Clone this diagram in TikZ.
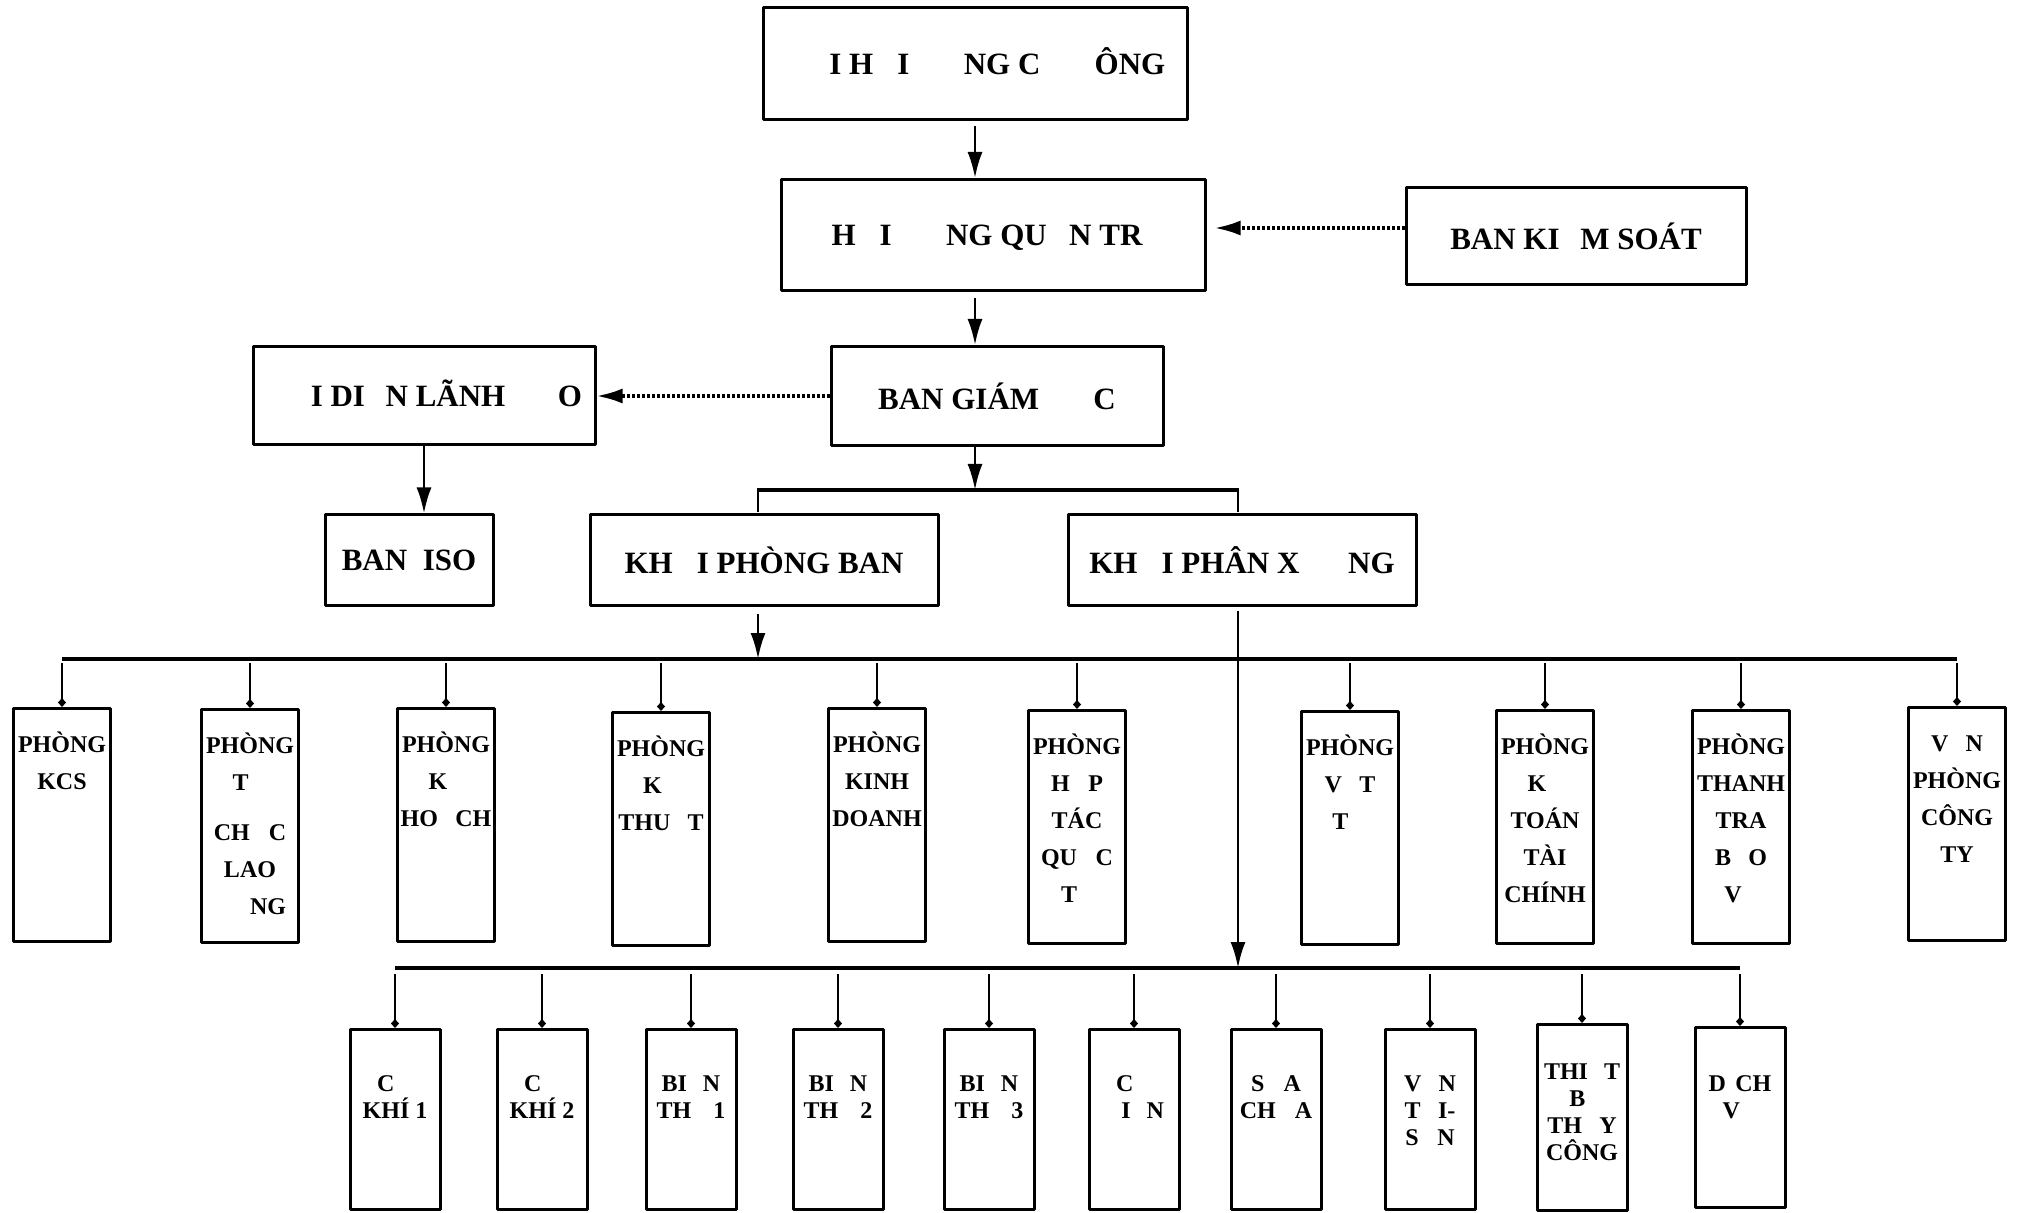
\documentclass[tikz,border=0pt]{standalone}
\usepackage{fontspec}
\setmainfont{Liberation Serif}
\usetikzlibrary{arrows.meta}
\newcommand{\miss}[1]{\phantom{#1}}
\newcommand{\boxtxt}[4]{\parbox[c][#1][t]{#2}{\centering\rule{0pt}{#3}#4\par}}
\tikzset{org/.style={line join=round,>={Latex[length=13pt,width=7.5pt]}},
  hd/.style={draw,line width=1.5pt,inner sep=0pt,font=\fontsize{15.5}{18}\selectfont\bfseries},
  room/.style={draw,line width=1.5pt,inner sep=0pt,anchor=north,font=\fontsize{12}{18.5}\selectfont\bfseries},
  shop/.style={room,font=\fontsize{12}{13.5}\selectfont\bfseries},
  arr/.style={line width=1.3pt,->},
  dots/.style={line width=1.7pt,dash pattern=on 1.5pt off 1pt,-{Latex[length=13pt,width=7.5pt]}},
  bar/.style={line width=1.6pt},
  link/.style={line width=1pt},
  drop/.style={line width=1pt,-{Diamond[length=4.5pt,width=4pt]}}}

\begin{document}
\begin{tikzpicture}[org,x=0.5pt,y=-0.5pt]
  \useasboundingbox (0,0) rectangle (2023,1213);
  % top of the chart
  \node[hd,minimum width=212pt,minimum height=56pt] (dhcd) at (975,64) {\miss{ĐẠ}I H\miss{Ộ}I \miss{ĐỒ}NG C\miss{Ổ} \miss{Đ}ÔNG};
  \node[hd,minimum width=212pt,minimum height=55.5pt] (hdqt) at (993,235) {H\miss{Ộ}I \miss{ĐỒ}NG QU\miss{Ả}N TR\miss{Ị}};
  \node[hd,minimum width=170pt,minimum height=48.5pt] (bks) at (1576,236) {BAN KI\miss{Ể}M SOÁT};
  \node[hd,minimum width=171pt,minimum height=49pt] (ddld) at (424,396) {\miss{ĐẠ}I DI\miss{Ệ}N LÃNH \miss{ĐẠ}O};
  \node[hd,minimum width=166pt,minimum height=49.5pt] (bgd) at (997,396) {BAN GIÁM \miss{ĐỐ}C};
  \node[hd,minimum width=84pt,minimum height=45pt] (iso) at (409,560) {BAN~ ISO};
  \node[hd,minimum width=174pt,minimum height=45pt] (kpb) at (764,560) {KH\miss{Ố}I PHÒNG BAN};
  \node[hd,minimum width=174pt,minimum height=45pt] (kpx) at (1242,560) {KH\miss{Ố}I PHÂN X\miss{ƯỞ}NG};
  \draw[arr,shorten <=2.5pt] (dhcd.south) -- (dhcd.south |- hdqt.north);
  \draw[arr,shorten <=3pt] (hdqt.south -| dhcd.south) -- (bgd.north -| dhcd.south);
  \draw[dots,shorten >=4pt] ([yshift=4pt]bks.west) -- ([yshift=4pt]bks.west -| hdqt.east);
  \draw[dots] (bgd.west) -- (ddld.east);
  \draw[arr] (ddld.south) -- (ddld.south |- iso.north);
  \coordinate (br) at (975,490); \coordinate (pbx) at (758,560); \coordinate (pxx) at (1238,560);
  \draw[arr] (bgd.south -| br) -- (br);
  \draw[bar] (pbx |- br) -- (pxx |- br);
  \draw[link] (pbx |- br) ++(0,-2) -- ++(0,24); \draw[link] (pxx |- br) ++(0,-2) -- ++(0,24);
  % phong ban
  \node[room] (kcs) at (62,707) {\boxtxt{116.5pt}{48.5pt}{22pt}{PHÒNG\\KCS}};
  \node[room] (tcld) at (250,708) {\boxtxt{116.5pt}{48.5pt}{22pt}{PHÒNG\\T\miss{Ổ}\\[6.5pt]CH\miss{Ứ}C\\LAO\\\miss{ĐỘ}NG}};
  \node[room] (khoach) at (446,707) {\boxtxt{116.5pt}{48.5pt}{22pt}{PHÒNG\\K\miss{Ế}\\HO\miss{Ạ}CH}};
  \node[room] (kthuat) at (661,711) {\boxtxt{116.5pt}{48.5pt}{22pt}{PHÒNG\\K\miss{Ỹ}\\THU\miss{Ậ}T}};
  \node[room] (kdoanh) at (877,707) {\boxtxt{116.5pt}{48.5pt}{22pt}{PHÒNG\\KINH\\DOANH}};
  \node[room] (htqt) at (1077,709) {\boxtxt{116.5pt}{48.5pt}{22pt}{PHÒNG\\H\miss{Ợ}P\\TÁC\\QU\miss{Ố}C\\T\miss{Ế}}};
  \node[room] (vattu) at (1350,710) {\boxtxt{116.5pt}{48.5pt}{22pt}{PHÒNG\\V\miss{Ậ}T\\T\miss{Ư}}};
  \node[room] (ktoan) at (1545,709) {\boxtxt{116.5pt}{48.5pt}{22pt}{PHÒNG\\K\miss{Ế}\\TOÁN\\TÀI\\CHÍNH}};
  \node[room] (ttbv) at (1741,709) {\boxtxt{116.5pt}{48.5pt}{22pt}{PHÒNG\\THANH\\TRA\\B\miss{Ả}O\\V\miss{Ệ}}};
  \node[room] (vpct) at (1957,706) {\boxtxt{116.5pt}{48.5pt}{22pt}{V\miss{Ă}N\\PHÒNG\\CÔNG\\TY}};
  \coordinate (pb) at (0,659);
  \draw[arr,shorten <=3.5pt] (kpb.south -| pbx) -- (pbx |- pb);
  \draw[bar] (kcs |- pb) -- (vpct |- pb);
  \foreach \n in {kcs,tcld,khoach,kthuat,kdoanh,htqt,vattu,ktoan,ttbv,vpct}
    \draw[drop,shorten <=2pt] (\n |- pb) -- (\n.north);
  % phan xuong
  \node[shop] (ck1) at (395,1028) {\boxtxt{90pt}{45pt}{31pt}{C\miss{Ơ}\\KHÍ 1}};
  \node[shop] (ck2) at (542,1028) {\boxtxt{90pt}{45pt}{31pt}{C\miss{Ơ}\\KHÍ 2}};
  \node[shop] (bt1) at (691,1028) {\boxtxt{90pt}{45pt}{31pt}{BI\miss{Ế}N\\TH\miss{Ế} 1}};
  \node[shop] (bt2) at (838,1028) {\boxtxt{90pt}{45pt}{31pt}{BI\miss{Ế}N\\TH\miss{Ế} 2}};
  \node[shop] (bt3) at (989,1028) {\boxtxt{90pt}{45pt}{31pt}{BI\miss{Ế}N\\TH\miss{Ế} 3}};
  \node[shop] (cdien) at (1134,1028) {\boxtxt{90pt}{45pt}{31pt}{C\miss{Ơ}\\\miss{Đ}I\miss{Ệ}N}};
  \node[shop] (schua) at (1276,1028) {\boxtxt{90pt}{45pt}{31pt}{S\miss{Ử}A\\CH\miss{Ữ}A}};
  \node[shop] (vtai) at (1430,1028) {\boxtxt{90pt}{45pt}{31pt}{V\miss{Ậ}N\\T\miss{Ả}I-\\S\miss{Ô}N}};
  \node[shop] (tbtc) at (1582,1023) {\boxtxt{93pt}{45pt}{27.5pt}{THI\miss{Ế}T\\B\miss{Ị}\\TH\miss{Ủ}Y\\CÔNG}};
  \node[shop] (dvu) at (1740,1026) {\boxtxt{90pt}{45pt}{32pt}{D\miss{Ị}CH\\V\miss{Ụ}}};
  \coordinate (xb) at (0,968);
  \draw[arr,shorten <=2pt] (kpx.south -| pxx) -- (pxx |- xb);
  \draw[bar] (ck1 |- xb) -- (dvu |- xb);
  \foreach \n in {ck1,ck2,bt1,bt2,bt3,cdien,schua,vtai,tbtc,dvu}
    \draw[drop,shorten <=3pt] (\n |- xb) -- (\n.north);
\end{tikzpicture}
\end{document}
